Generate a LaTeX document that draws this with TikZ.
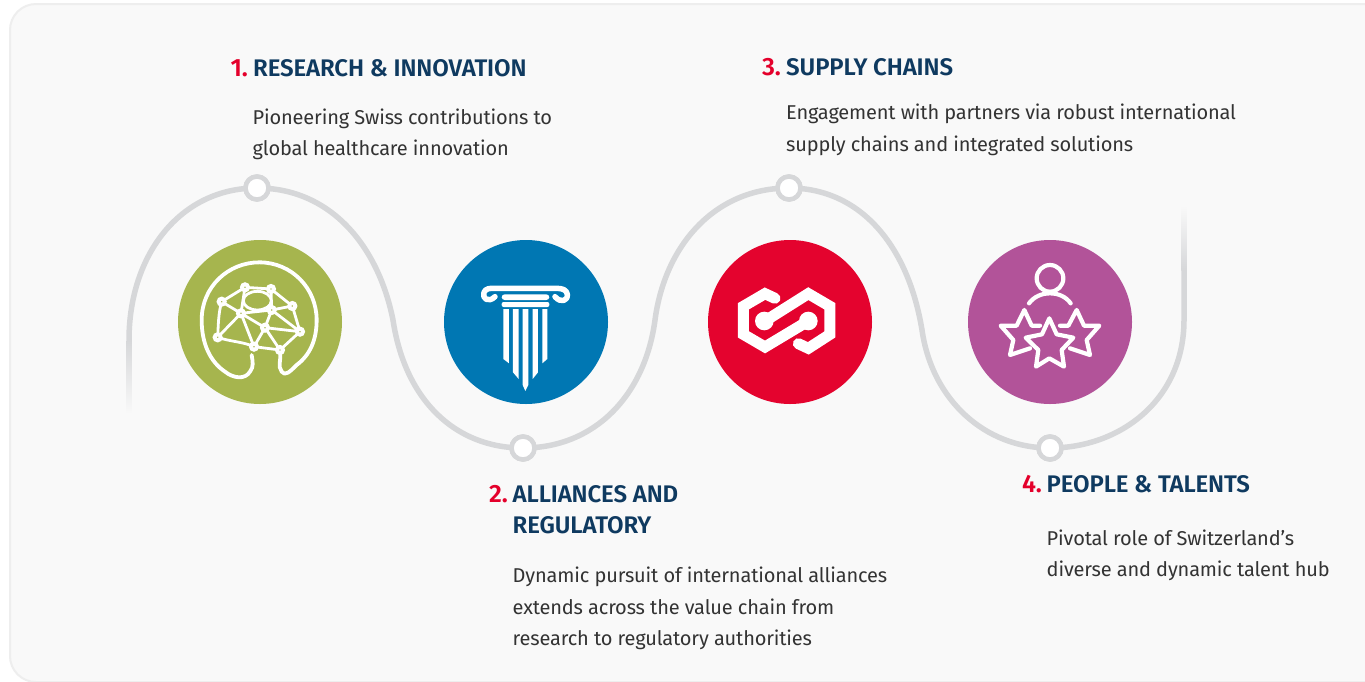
\documentclass[tikz,border=0pt]{standalone}
\usepackage{fontspec}
\setmainfont[LetterSpace=-0.8]{Fira Sans}
\newfontfamily\headfont[LetterSpace=-0.5]{Fira Sans SemiBold}
\definecolor{bgc}{HTML}{F9F9F9}
\definecolor{edgec}{HTML}{EEEEEE}
\definecolor{trackc}{HTML}{D6D7D9}
\definecolor{navyc}{HTML}{0F3A60}
\definecolor{redc}{HTML}{E4002B}
\definecolor{bodyc}{HTML}{333333}
\definecolor{greenc}{HTML}{A6B54E}
\definecolor{bluec}{HTML}{0077B3}
\definecolor{crimsonc}{HTML}{E4032E}
\definecolor{purplec}{HTML}{B25399}
\tikzset{
  track/.style={draw=trackc,line width=5.5pt},
  marker/.style={circle,draw=trackc,line width=4.5pt,fill=white,minimum size=23pt,inner sep=0pt},
  disc/.style={circle,minimum size=164pt,inner sep=0pt},
  headtext/.style={anchor=base west,inner sep=0pt,text=navyc,font=\headfont\fontsize{24}{31.5}\selectfont,align=left},
  numtext/.style={anchor=base east,inner sep=0pt,text=redc,font=\headfont\fontsize{25}{31.5}\selectfont},
  bodytext/.style={anchor=north west,inner sep=0pt,text=bodyc,font=\fontsize{20}{31.5}\selectfont,align=left},
  iconline/.style={draw=white,line cap=round,line join=round},
}
\begin{document}
\begin{tikzpicture}[x=1pt,y=-1pt]
\useasboundingbox (0,0) rectangle (1365,681);
\clip (0,0) rectangle (1365,681);
\fill[white] (0,0) rectangle (1365,681);
\draw[draw=edgec,fill=bgc,line width=2pt,rounded corners=26pt] (10,4) rectangle (1400,682);

% track
\coordinate (s0) at (129,340);
\coordinate (e0) at (1184,270);
\node[marker] (m1) at (257,188) {};
\node[marker] (m2) at (523,448) {};
\node[marker] (m3) at (789,188) {};
\node[marker] (m4) at (1050,448) {};
\shade[bottom color=bgc,top color=trackc] (126.25,340) rectangle (131.75,414);
\shade[top color=bgc,bottom color=trackc] (1181.25,206) rectangle (1186.75,270);
\draw[track] (s0) .. controls (129,255) and (180,188) .. (m1.center)
  .. controls (330,188) and (378,245) .. (393,320)
  .. controls (405,400) and (455,448) .. (m2.center)
  .. controls (595,448) and (645,395) .. (655,320)
  .. controls (665,245) and (715,188) .. (m3.center)
  .. controls (860,188) and (908,245) .. (922,330)
  .. controls (932,400) and (985,448) .. (m4.center)
  .. controls (1120,448) and (1184,400) .. (1184,320) -- (e0);
\node[marker] at (m1) {};
\node[marker] at (m2) {};
\node[marker] at (m3) {};
\node[marker] at (m4) {};

% discs
\node[disc,fill=greenc] (d1) at (260,322) {};
\node[disc,fill=bluec] (d2) at (526,322) {};
\node[disc,fill=crimsonc] (d3) at (790,322) {};
\node[disc,fill=purplec] (d4) at (1050,322) {};

% icon 1: head network
\begin{scope}[shift={(170,230)},x=0.3333pt,y=-0.3333pt]
  \draw[iconline,line width=3.8pt] (245,375) .. controls (248,395) and (252,410) .. (240,425)
    .. controls (225,450) and (190,445) .. (165,425)
    .. controls (120,395) and (95,340) .. (95,270)
    .. controls (95,170) and (175,97) .. (268,97)
    .. controls (365,97) and (440,175) .. (440,270)
    .. controls (440,330) and (420,375) .. (380,405)
    .. controls (360,425) and (345,440) .. (335,425)
    .. controls (322,410) and (335,385) .. (330,365);
  \draw[iconline,line width=2.8pt]
    (155,215) -- (225,172) -- (303,177) -- (367,228) -- (390,305) -- (330,360) -- (252,350)
      .. controls (220,335) and (180,335) .. (143,322) .. controls (145,285) and (145,250) .. (155,215)
    (155,215) -- (213,250) -- (225,172)
    (143,322) -- (213,250) -- (252,350)
    (213,250) -- (305,240) -- (303,177)
    (305,240) -- (367,228)
    (305,240) -- (390,305)
    (213,250) -- (285,293) -- (252,350)
    (305,240) -- (285,293) -- (390,305)
    (285,293) -- (330,360);
  \draw[iconline,line width=2.8pt,fill=greenc] (262,212) ellipse [x radius=42,y radius=28];
  \foreach \p in {(155,215),(225,172),(303,177),(367,228),(390,305),(330,360),(252,350),(143,322),(213,250),(305,240),(285,293)}
    \draw[draw=white,line width=4pt,fill=greenc] \p circle [radius=9];
\end{scope}

% icon 2: column
\begin{scope}[shift={(440,235)},x=0.3333pt,y=-0.3333pt]
  \draw[iconline,line width=5.5pt] (165,185) .. controls (145,205) and (125,190) .. (132,172)
     .. controls (137,160) and (150,160) .. (160,160) -- (350,160)
     .. controls (368,160) and (380,165) .. (382,178) .. controls (384,198) and (362,205) .. (345,185);
  \fill[white,rounded corners=3pt] (185,178) rectangle (328,195);
  \fill[white,rounded corners=2pt] (185,201) rectangle (328,216);
  \fill[white] (190,222) -- (207,222) -- (207,385) -- (190,372) -- cycle;
  \fill[white] (219,222) -- (236,222) -- (236,432) -- (219,412) -- cycle;
  \fill[white] (248,222) -- (265,222) -- (265,450) -- (256,468) -- (248,450) -- cycle;
  \fill[white] (278,222) -- (294,222) -- (294,412) -- (278,432) -- cycle;
  \fill[white] (307,222) -- (322,222) -- (322,372) -- (307,385) -- cycle;
\end{scope}

% icon 3: chain
\begin{scope}[shift={(700,235)},x=0.3333pt,y=-0.3333pt]
  \draw[draw=white,line width=11pt,line join=miter,line cap=round]
    (225,190) -- (195,176) -- (130,214) -- (130,298) -- (195,336) -- (325,258);
  \draw[draw=white,line width=11pt,line join=miter,line cap=round]
    (295,326) -- (325,340) -- (390,298) -- (390,214) -- (325,176) -- (195,258);
  \fill[white] (193,258) circle [radius=28];
  \fill[white] (325,258) circle [radius=28];
\end{scope}

% icon 4: person and stars
\begin{scope}[shift={(960,235)},x=0.3333pt,y=-0.3333pt]
  \begin{scope}[iconline,line width=4.2pt]
  \draw (270,130) circle [radius=40];
  \draw (207,205) .. controls (222,185) and (245,175) .. (270,175) .. controls (295,175) and (318,185) .. (332,205);
  \draw (240,272) -- (215,272) -- (193,225) -- (170,272) -- (122,272) -- (160,315) -- (150,360) -- (210,340);
  \draw (300,272) -- (325,272) -- (350,225) -- (372,272) -- (418,272) -- (380,315) -- (390,360) -- (330,340);
  \draw (268,250) -- (290,298) -- (340,308) -- (305,345) -- (312,395) -- (268,370) -- (228,395) -- (235,345) -- (197,308) -- (246,298) -- cycle;
  \end{scope}
\end{scope}

% text
\node[numtext] (n1) at (248,76) {1.};
\node[headtext] (h1) at (253,76) {RESEARCH \& INNOVATION};
\node[bodytext] (b1) at (252.5,108.5) {Pioneering Swiss contributions to\\global healthcare innovation};

\node[numtext] (n2) at (508,502) {2.};
\node[headtext] (h2) at (512.5,533.5) {ALLIANCES AND\\REGULATORY};
\node[bodytext] (b2) at (512.5,567) {Dynamic pursuit of international alliances\\extends across the value chain from\\research to regulatory authorities};

\node[numtext] (n3) at (781,75) {3.};
\node[headtext] (h3) at (786,75) {SUPPLY CHAINS};
\node[bodytext] (b3) at (786,104) {Engagement with partners via robust international\\supply chains and integrated solutions};

\node[numtext] (n4) at (1042,492) {4.};
\node[headtext] (h4) at (1046.5,492) {PEOPLE \& TALENTS};
\node[bodytext] (b4) at (1046.5,529.5) {Pivotal role of Switzerland’s\\diverse and dynamic talent hub};
\end{tikzpicture}
\end{document}
